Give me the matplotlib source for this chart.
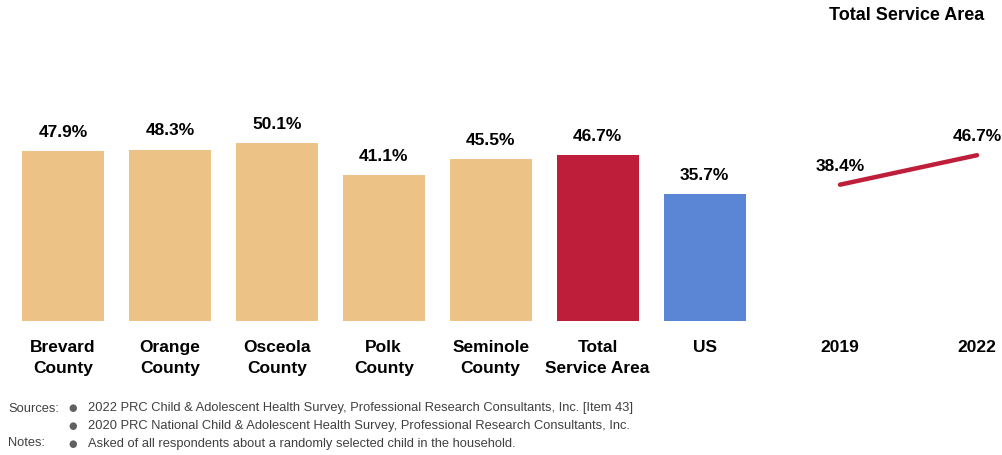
import numpy as np
import matplotlib
matplotlib.use('Agg')
import matplotlib.pyplot as plt

plt.rcParams['font.family'] = ['Liberation Sans Narrow', 'Liberation Sans', 'DejaVu Sans']

# data
areas = ['Brevard\nCounty', 'Orange\nCounty', 'Osceola\nCounty', 'Polk\nCounty',
         'Seminole\nCounty', 'Total\nService Area', 'US']
pct = [47.9, 48.3, 50.1, 41.1, 45.5, 46.7, 35.7]
bar_colors = ['#EDC286', '#EDC286', '#EDC286', '#EDC286', '#EDC286', '#BE1E3A', '#5B86D6']

years = ['2019', '2022']
tsa_trend = [38.4, 46.7]

sources = ['2022 PRC Child & Adolescent Health Survey, Professional Research Consultants, Inc. [Item 43]',
           '2020 PRC National Child & Adolescent Health Survey, Professional Research Consultants, Inc.']
notes = ['Asked of all respondents about a randomly selected child in the household.']

W, H = 1003, 455
fig = plt.figure(figsize=(W/100, H/100), dpi=100)

def px_axes(x0, x1, ybot, ytop):
    return fig.add_axes([x0/W, (H-ybot)/H, (x1-x0)/W, (ybot-ytop)/H])

#bar panel
ax = px_axes(9.5, 758, 321, 108)
x = np.arange(len(areas))
bars = ax.bar(x, pct, width=0.767, color=bar_colors)
ax.set_xlim(-0.5, 6.5)
ax.set_ylim(0, 60)
for xi, v in zip(x, pct):
    ax.annotate(f'{v:.1f}%', (xi, v), textcoords='offset points', xytext=(0, 8),
                ha='center', va='bottom', fontsize=12.5, fontweight='bold')
ax.set_xticks(x)
ax.set_xticklabels(areas, fontsize=12.5, fontweight='bold', linespacing=1.5)
ax.tick_params(axis='x', length=0, pad=14)
ax.set_yticks([])
for s in ax.spines.values():
    s.set_visible(False)

#trend panel
ax2 = px_axes(780, 1003, 321, 108)
xx = np.arange(len(years))
ax2.plot(xx, tsa_trend, color='#BE1E3A', lw=3.2, solid_capstyle='round')
ax2.set_xlim((780-840)/137, (1003-840)/137)
ax2.set_ylim(0, 60)
for xi, v in zip(xx, tsa_trend):
    ax2.annotate(f'{v:.1f}%', (xi, v), textcoords='offset points', xytext=(0, 8),
                 ha='center', va='bottom', fontsize=12.5, fontweight='bold')
ax2.set_xticks(xx)
ax2.set_xticklabels(years, fontsize=12.5, fontweight='bold')
ax2.tick_params(axis='x', length=0, pad=14)
ax2.set_yticks([])
for s in ax2.spines.values():
    s.set_visible(False)
fig.text(907/W, 1-16/H, 'Total Service Area', ha='center', va='center',
         fontsize=13, fontweight='bold')

#footnotes
fs = 9.3
rows = [('Sources:', sources[0]), ('', sources[1]), ('Notes:', notes[0])]
for i, (head, txt) in enumerate(rows):
    yy = 1 - (408.5 + i*17.5)/H
    if head:
        fig.text(8/W, yy, head, fontsize=fs, color='#404040', va='center')
    fig.text(73/W, yy, '\u25CF', fontsize=7, color='#606060', va='center', ha='center',
             family='DejaVu Sans')
    fig.text(88/W, yy, txt, fontsize=fs, color='#404040', va='center')

plt.savefig('out.png', dpi=100)
